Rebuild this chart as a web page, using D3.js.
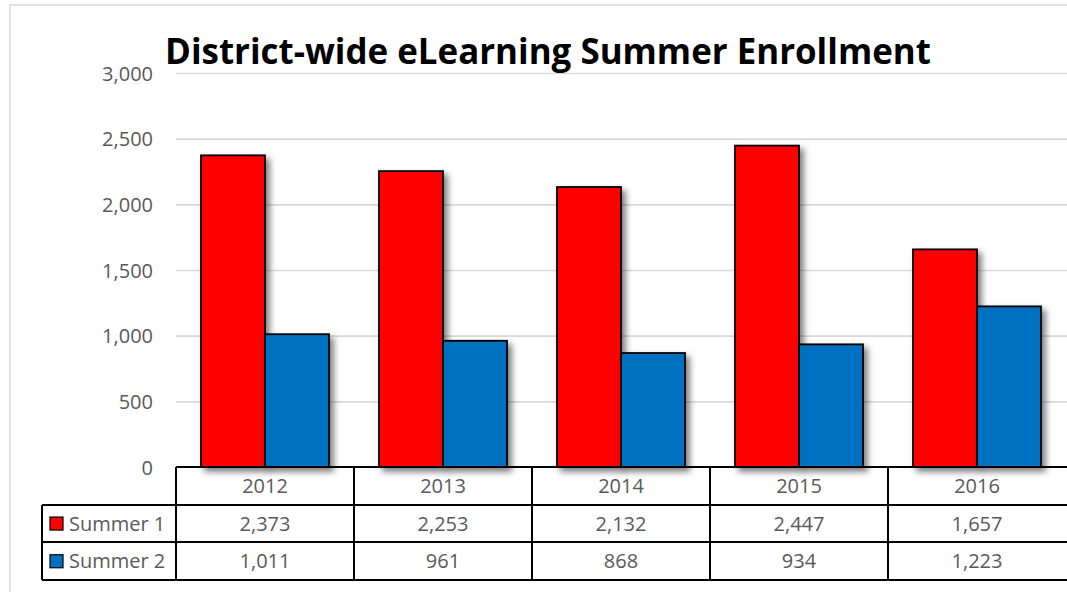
<!DOCTYPE html>
<html>
<head>
<meta charset="utf-8">
<script src="https://cdn.jsdelivr.net/npm/d3@7"></script>
<style>
  html, body { margin: 0; padding: 0; background: #ffffff; overflow: hidden; }
  svg { display: block; }
  text { font-family: "Open Sans", "Noto Sans", sans-serif; }
</style>
</head>
<body>
<svg id="chart" width="1067" height="592"></svg>
<script>
// ---- data ----
const title = "District-wide eLearning Summer Enrollment";
const categories = ["2012", "2013", "2014", "2015", "2016"];
const seriesNames = ["Summer 1", "Summer 2"];
const summer1 = [2373, 2253, 2132, 2447, 1657];
const summer2 = [1011, 961, 868, 934, 1223];
const yTicks = [0, 500, 1000, 1500, 2000, 2500, 3000];
const seriesColors = ["#FF0000", "#0070C0"];

// ---- layout ----
const W = 1067, H = 592;
const plotL = 176, plotR = 1066, plotT = 73, plotB = 467;
const rowH = 37.7;
const legendL = 42;

const svg = d3.select("#chart");

// shadow filter
const defs = svg.append("defs");
const f = defs.append("filter").attr("id", "shadow")
  .attr("x", "-20%").attr("y", "-20%").attr("width", "160%").attr("height", "150%");
f.append("feDropShadow").attr("dx", 4).attr("dy", 4).attr("stdDeviation", 3)
  .attr("flood-color", "#000").attr("flood-opacity", 0.5);

// outer chart border
svg.append("rect").attr("x", 10).attr("y", 5).attr("width", W + 20).attr("height", H + 20)
  .attr("fill", "#fff").attr("stroke", "#d9d9d9").attr("stroke-width", 1.5);

// scales
const x0 = d3.scaleBand().domain(categories).range([plotL, plotR]).padding(0);
const x1 = d3.scaleBand().domain(seriesNames)
  .range([x0.bandwidth() * 0.1404, x0.bandwidth() * (1 - 0.1404)]).padding(0);
const y = d3.scaleLinear().domain([0, 3000]).range([plotB, plotT]);
const color = d3.scaleOrdinal().domain(seriesNames).range(seriesColors);

// y axis with gridlines
const yAxis = d3.axisLeft(y).tickValues(yTicks)
  .tickSizeInner(-(W - plotL)).tickSizeOuter(0).tickPadding(23)
  .tickFormat(d3.format(","));
const yg = svg.append("g").attr("transform", `translate(${plotL},0)`).call(yAxis);
yg.select(".domain").remove();
yg.selectAll(".tick line").attr("stroke", "#d9d9d9").attr("stroke-width", 1.6)
  .filter(d => d === 0).remove();
yg.selectAll(".tick text").attr("fill", "#595959").attr("font-size", 20)
  .attr("font-family", '"Open Sans", sans-serif').attr("dy", "0.36em");

// bars
const rows = categories.map((c, i) => ({ cat: c, values: [summer1[i], summer2[i]] }));
const groups = svg.append("g").selectAll("g").data(rows).join("g")
  .attr("transform", d => `translate(${x0(d.cat)},0)`);
groups.selectAll("rect").data(d => seriesNames.map((s, j) => ({ s, v: d.values[j] })))
  .join("rect")
  .attr("x", d => x1(d.s))
  .attr("y", d => y(d.v))
  .attr("width", x1.bandwidth())
  .attr("height", d => y(0) - y(d.v))
  .attr("fill", d => color(d.s))
  .attr("stroke", "#000").attr("stroke-width", 1.8)
  .attr("filter", "url(#shadow)");

// data table
const tbl = svg.append("g");
const lineAttr = sel => sel.attr("stroke", "#000").attr("stroke-width", 2).attr("shape-rendering", "crispEdges");
const rowYs = [plotB, plotB + rowH, plotB + 2 * rowH, plotB + 3 * rowH];
// horizontal lines
tbl.append("line").attr("x1", plotL).attr("x2", W + 5).attr("y1", rowYs[0]).attr("y2", rowYs[0]).call(lineAttr);
[1, 2, 3].forEach(k => {
  tbl.append("line").attr("x1", legendL).attr("x2", W + 5).attr("y1", rowYs[k]).attr("y2", rowYs[k]).call(lineAttr);
});
// vertical lines
tbl.append("line").attr("x1", legendL).attr("x2", legendL).attr("y1", rowYs[1]).attr("y2", rowYs[3]).call(lineAttr);
categories.forEach(c => {
  const xx = x0(c);
  tbl.append("line").attr("x1", xx).attr("x2", xx).attr("y1", rowYs[0]).attr("y2", rowYs[3]).call(lineAttr);
});

// header row (categories)
tbl.selectAll("text.cat").data(categories).join("text").attr("class", "cat")
  .attr("x", d => x0(d) + x0.bandwidth() / 2)
  .attr("y", (rowYs[0] + rowYs[1]) / 2 + 7)
  .attr("text-anchor", "middle").attr("font-size", 20).attr("fill", "#595959")
  .text(d => d);

// value rows
const fmt = d3.format(",");
const seriesData = [summer1, summer2];
seriesData.forEach((vals, k) => {
  const cy = (rowYs[k + 1] + rowYs[k + 2]) / 2;
  tbl.selectAll(`text.v${k}`).data(vals).join("text").attr("class", `v${k}`)
    .attr("x", (d, i) => x0(categories[i]) + x0.bandwidth() / 2)
    .attr("y", cy + 7)
    .attr("text-anchor", "middle").attr("font-size", 20).attr("fill", "#595959")
    .text(d => fmt(d));
  // legend key
  tbl.append("rect").attr("x", 50).attr("y", cy - 6.5).attr("width", 13).attr("height", 13)
    .attr("fill", seriesColors[k]).attr("stroke", "#000").attr("stroke-width", 1.2);
  tbl.append("text").attr("x", 69).attr("y", cy + 7)
    .attr("font-size", 20).attr("fill", "#595959").text(seriesNames[k]);
});

// title
const t = svg.append("text").attr("x", 548).attr("y", 64)
  .attr("text-anchor", "middle").attr("font-weight", "bold").attr("fill", "#000")
  .attr("font-size", 32).text(title);
const tw = t.node().getComputedTextLength();
if (tw > 0) t.attr("font-size", 32 * 766 / tw);
</script>
</body>
</html>
